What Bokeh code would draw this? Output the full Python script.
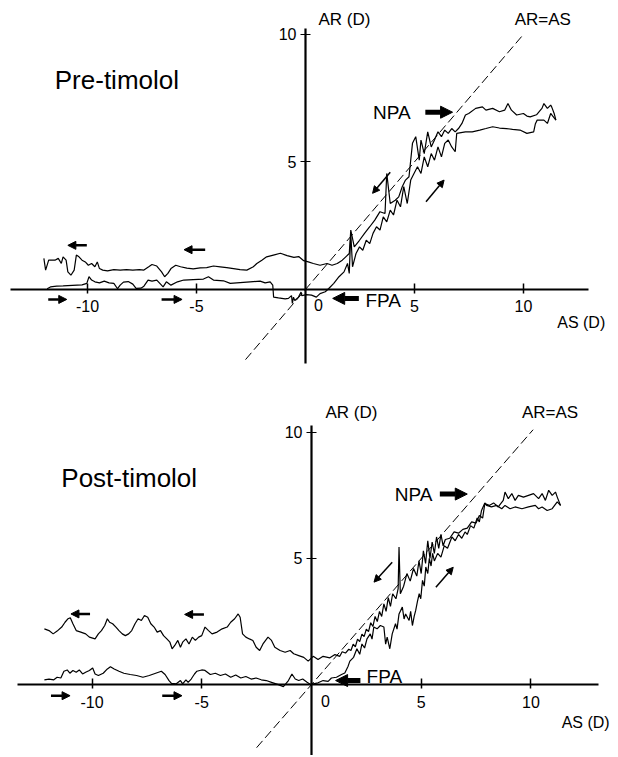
from bokeh.plotting import figure
from bokeh.models import LinearAxis, FixedTicker, Label, Arrow, NormalHead
from bokeh.layouts import column
from bokeh.embed import file_html
from bokeh.resources import INLINE

FONT = "Liberation Sans"

x_tick_values = [-10, -5, 5, 10]
x_tick_labels = ["-10", "-5", "5", "10"]
y_tick_values = [5, 10]
y_tick_labels = ["5", "10"]

# ---------------- Pre-timolol ----------------
# ascending (stimulus increasing) branch: AS, AR
pre_up_as = [
    -11.85, -11.7, -11.41, -11.12, -10.69, -10.25, -10.03, -9.93, -9.81, -9.66,
    -9.45, -9.23, -9.01, -8.79, -8.62, -8.5, -8.35, -8.13, -7.92, -7.77,
    -7.55, -7.41, -7.22, -7.04, -6.82, -6.68, -6.53, -6.38, -6.17, -5.87,
    -5.58, -5.15, -4.68, -4.45, -4.22, -3.76, -3.45, -3.0, -2.54, -2.08,
    -1.85, -1.62, -1.5, -1.46, -1.24, -0.93, -0.78, -0.64, -0.6, -0.55,
    -0.49, -0.32, -0.2, -0.17, 0.05, 0.28, 0.5, 0.67, 0.91, 1.07,
    1.3, 1.54, 1.77, 1.93, 2.01, 2.08, 2.16, 2.32, 2.48, 2.63,
    2.79, 2.95, 3.1, 3.26, 3.42, 3.57, 3.73, 3.89, 4.04, 4.2,
    4.36, 4.51, 4.67, 4.83, 4.98, 5.14, 5.3, 5.45, 5.61, 5.77,
    5.92, 6.08, 6.24, 6.39, 6.55, 6.71, 6.87, 6.94, 7.34, 7.65,
    8.0, 8.28, 8.59, 8.9, 9.22, 9.5, 9.84, 10.16, 10.47, 10.55,
    10.63, 10.94, 11.1, 11.25, 11.49]
pre_up_ar = [
    0.03, 0.1, 0.13, 0.14, 0.16, 0.18, 0.24, 0.5, 0.37, 0.3,
    0.26, 0.33, 0.26, 0.24, 0.03, 0.17, 0.29, 0.31, 0.21, 0.04,
    0.05, 0.13, 0.37, 0.33, 0.37, 0.24, 0.1, 0.3, 0.17, 0.3,
    0.37, 0.39, 0.41, 0.5, 0.37, 0.34, 0.24, 0.27, 0.3, 0.33,
    0.26, 0.3, 0.17, -0.3, -0.33, -0.37, -0.35, -0.24, -0.55, -0.3,
    -0.43, -0.3, -0.1, -0.24, -0.2, -0.22, -0.3, -0.16, -0.09, 0.04,
    0.24, 0.5, 0.69, 1.02, 0.63, 2.2, 0.89, 1.41, 1.67, 1.54,
    1.93, 1.8, 2.2, 2.46, 2.33, 2.85, 2.65, 3.11, 2.92, 3.5,
    3.24, 4.03, 3.37, 4.29, 4.55, 4.81, 4.55, 5.2, 4.81, 5.33,
    5.07, 5.59, 5.2, 5.73, 5.86, 5.59, 5.4, 6.12, 6.18, 6.18,
    6.25, 6.31, 6.38, 6.33, 6.31, 6.28, 6.25, 6.12, 6.18, 6.5,
    6.64, 6.64, 6.51, 6.9, 6.64]
# descending (stimulus decreasing) branch: AS, AR
pre_dn_as = [
    11.49, 11.41, 11.3, 11.25, 11.1, 10.94, 10.85, 10.78, 10.6, 10.31,
    10.16, 10.0, 9.69, 9.45, 9.29, 9.14, 8.9, 8.59, 8.28, 8.12,
    7.81, 7.49, 7.34, 7.18, 7.02, 6.87, 6.71, 6.55, 6.39, 6.24,
    6.08, 5.92, 5.77, 5.61, 5.45, 5.3, 5.22, 5.06, 4.91, 4.75,
    4.59, 4.44, 4.28, 4.12, 3.89, 3.73, 3.65, 3.42, 3.18, 2.95,
    2.71, 2.48, 2.24, 2.08, 2.01, 1.85, 1.69, 1.46, 1.22, 0.99,
    0.67, 0.36, 0.13, -0.08, -0.31, -0.53, -0.84, -1.15, -1.47, -1.78,
    -2.0, -2.23, -2.39, -2.69, -3.0, -3.3, -3.61, -3.91, -4.22, -4.53,
    -4.83, -5.15, -5.44, -5.73, -5.95, -6.17, -6.31, -6.46, -6.6, -6.82,
    -7.04, -7.19, -7.41, -7.62, -7.92, -8.21, -8.5, -8.79, -9.08, -9.3,
    -9.45, -9.55, -9.66, -9.81, -9.96, -10.1, -10.25, -10.39, -10.51, -10.61,
    -10.76, -10.9, -10.98, -11.12, -11.2, -11.34, -11.49, -11.63, -11.78, -11.92,
    -12.0]
pre_dn_ar = [
    6.64, 6.9, 7.15, 7.23, 7.1, 7.29, 7.1, 7.03, 6.85, 6.77,
    6.8, 6.9, 6.84, 7.03, 7.29, 7.03, 6.97, 7.1, 7.03, 7.16,
    7.1, 6.9, 6.84, 6.51, 6.31, 6.18, 6.31, 6.12, 6.25, 5.99,
    6.18, 5.86, 5.59, 6.18, 5.33, 5.86, 5.07, 5.99, 5.73, 4.42,
    4.29, 4.03, 3.63, 3.5, 3.37, 4.55, 2.98, 3.05, 2.72, 2.46,
    2.2, 1.93, 1.67, 2.33, 1.41, 1.28, 1.15, 1.02, 0.95, 1.02,
    0.95, 1.02, 1.08, 1.13, 1.29, 1.26, 1.33, 1.42, 1.35, 1.28,
    1.15, 1.02, 0.89, 0.76, 0.78, 0.82, 0.86, 0.89, 0.92, 0.86,
    0.85, 0.81, 0.84, 0.89, 0.95, 0.82, 0.63, 0.5, 0.69, 0.92,
    0.98, 0.89, 0.76, 0.78, 0.76, 0.78, 0.76, 0.78, 0.73, 0.76,
    0.82, 1.08, 0.89, 1.02, 0.95, 1.08, 1.15, 1.28, 1.35, 0.76,
    0.56, 0.69, 1.15, 1.28, 1.02, 1.22, 1.15, 1.15, 1.15, 0.76,
    1.22]
pre_identity = [-2.75, 10.0]

# ---------------- Post-timolol ----------------
post_up_as = [
    -12.17, -11.96, -11.74, -11.59, -11.42, -11.28, -11.13, -11.01, -10.87, -10.72,
    -10.58, -10.43, -10.29, -10.12, -9.97, -9.86, -9.71, -9.49, -9.3, -9.16,
    -8.99, -8.77, -8.55, -8.26, -7.97, -7.68, -7.39, -7.1, -6.84, -6.67,
    -6.49, -6.38, -6.16, -5.97, -5.87, -5.72, -5.62, -5.48, -5.33, -5.22,
    -5.0, -4.85, -4.61, -4.38, -4.15, -3.92, -3.68, -3.45, -3.22, -2.99,
    -2.75, -2.52, -2.29, -2.06, -1.82, -1.51, -1.28, -1.05, -0.89, -0.74,
    -0.58, -0.4, -0.2, -0.04, 0.08, 0.3, 0.53, 0.76, 0.91, 1.14,
    1.37, 1.52, 1.67, 1.75, 1.92, 2.07, 2.2, 2.3, 2.42, 2.53,
    2.68, 2.76, 2.84, 2.99, 3.14, 3.3, 3.38, 3.45, 3.57, 3.68,
    3.83, 3.9, 3.99, 4.14, 4.22, 4.29, 4.45, 4.52, 4.6, 4.68,
    4.75, 4.83, 4.91, 4.98, 5.06, 5.14, 5.21, 5.3, 5.37, 5.45,
    5.52, 5.6, 5.75, 5.9, 6.05, 6.2, 6.4, 6.55, 6.7, 6.85,
    7.0, 7.1, 7.25, 7.4, 7.55, 7.65, 7.75, 7.9, 7.98, 8.2,
    8.44, 8.67, 8.82, 9.05, 9.28, 9.59, 9.89, 10.2, 10.35, 10.51,
    10.74, 10.97, 11.2, 11.35]
post_up_ar = [
    0.19, 0.22, 0.19, 0.29, 0.26, 0.53, 0.58, 0.45, 0.56, 0.49,
    0.58, 0.42, 0.49, 0.56, 0.66, 0.42, 0.36, 0.45, 0.62, 0.71,
    0.62, 0.53, 0.45, 0.4, 0.36, 0.29, 0.36, 0.45, 0.53, 0.4,
    0.16, 0.05, 0.03, 0.16, 0.03, 0.19, 0.09, 0.22, 0.42, 0.53,
    0.58, 0.56, 0.4, 0.45, 0.36, 0.42, 0.29, 0.38, 0.26, 0.32,
    0.22, 0.26, 0.19, 0.16, 0.09, 0.0, -0.08, 0.16, 0.42, 0.22,
    0.16, 0.22, 0.09, 0.0, 0.03, 0.07, 0.16, 0.13, 0.26, 0.29,
    0.4, 0.46, 0.73, 0.93, 1.08, 1.42, 1.2, 1.61, 1.45, 1.81,
    2.01, 1.8, 2.28, 2.21, 2.34, 2.28, 1.6, 1.88, 1.42, 2.01,
    2.41, 2.2, 2.8, 3.07, 2.6, 2.8, 2.54, 2.9, 2.34, 2.7,
    2.94, 3.3, 3.6, 3.4, 4.13, 3.9, 4.66, 4.4, 5.0, 4.7,
    5.2, 4.9, 5.2, 5.05, 5.5, 5.4, 5.85, 5.7, 5.95, 5.8,
    6.05, 5.95, 6.3, 6.2, 6.6, 6.45, 6.9, 7.2, 7.1, 7.04,
    7.1, 6.97, 7.1, 6.97, 7.04, 6.97, 7.04, 7.1, 6.97, 7.04,
    6.9, 6.97, 7.24, 7.1]
post_dn_as = [
    11.35, 11.2, 11.12, 10.97, 10.81, 10.66, 10.51, 10.35, 10.12, 9.89,
    9.66, 9.43, 9.28, 9.13, 8.97, 8.82, 8.74, 8.51, 8.3, 8.1,
    7.9, 7.8, 7.65, 7.5, 7.3, 7.1, 6.9, 6.7, 6.5, 6.3,
    6.1, 6.0, 5.9, 5.8, 5.7, 5.6, 5.5, 5.4, 5.3, 5.2,
    5.1, 5.0, 4.9, 4.8, 4.65, 4.5, 4.35, 4.2, 4.05, 3.99,
    3.95, 3.85, 3.7, 3.6, 3.5, 3.4, 3.3, 3.2, 3.1, 3.0,
    2.9, 2.8, 2.7, 2.6, 2.5, 2.4, 2.3, 2.2, 2.1, 2.0,
    1.9, 1.8, 1.7, 1.55, 1.4, 1.29, 1.07, 0.84, 0.53, 0.3,
    0.08, -0.15, -0.35, -0.58, -0.81, -0.97, -1.2, -1.43, -1.67, -1.82,
    -1.98, -2.21, -2.36, -2.52, -2.67, -2.83, -2.99, -3.14, -3.25, -3.34,
    -3.5, -3.68, -3.84, -4.07, -4.3, -4.53, -4.69, -4.85, -5.0, -5.14,
    -5.29, -5.43, -5.58, -5.72, -5.87, -5.97, -6.09, -6.23, -6.35, -6.45,
    -6.59, -6.74, -6.88, -7.03, -7.17, -7.32, -7.46, -7.61, -7.75, -7.9,
    -8.04, -8.19, -8.33, -8.48, -8.62, -8.77, -8.91, -9.06, -9.2, -9.3,
    -9.42, -9.57, -9.71, -9.86, -10.12, -10.29, -10.51, -10.72, -10.87, -10.99,
    -11.09, -11.23, -11.38, -11.59, -11.77, -11.96, -12.17]
post_dn_ar = [
    7.1, 7.43, 7.63, 7.5, 7.7, 7.3, 7.57, 7.37, 7.57, 7.5,
    7.43, 7.5, 7.3, 7.57, 7.37, 7.63, 7.3, 7.04, 7.2, 7.1,
    7.17, 6.6, 6.7, 6.4, 6.45, 6.2, 6.15, 6.0, 6.05, 5.8,
    5.75, 5.5, 5.95, 5.4, 5.85, 5.2, 5.65, 5.0, 5.7, 4.8,
    5.3, 4.4, 4.9, 4.3, 4.6, 4.1, 4.4, 3.9, 3.6, 5.45,
    3.8, 3.4, 3.6, 3.1, 3.45, 2.9, 3.2, 2.7, 2.9, 2.5,
    2.7, 2.3, 2.45, 2.1, 2.2, 1.9, 2.0, 1.7, 1.8, 1.5,
    1.6, 1.35, 1.4, 1.25, 1.3, 1.12, 1.19, 1.06, 1.12, 0.99,
    1.12, 0.93, 1.08, 1.15, 1.22, 1.35, 1.28, 1.35, 1.48, 1.75,
    1.88, 1.61, 1.35, 1.48, 1.75, 1.81, 1.88, 2.01, 2.67, 2.8,
    2.61, 2.47, 2.28, 2.21, 2.08, 2.01, 2.14, 2.28, 1.94, 1.88,
    1.75, 1.88, 1.61, 1.81, 1.68, 1.48, 1.75, 1.55, 1.42, 1.68,
    1.81, 1.94, 2.14, 2.08, 2.28, 2.41, 2.67, 2.74, 2.54, 2.61,
    2.41, 2.14, 2.01, 1.94, 2.01, 2.14, 2.28, 2.41, 2.47, 2.61,
    2.34, 2.14, 2.01, 1.81, 1.88, 2.01, 2.08, 2.14, 2.41, 2.65,
    2.61, 2.47, 2.28, 2.12, 2.01, 2.14, 2.21]
post_identity = [-2.5, 10.1]


def add_arrow(p, xs, ys, xe, ye, lw, size):
    p.add_layout(Arrow(x_start=xs, y_start=ys, x_end=xe, y_end=ye,
                       line_width=lw, line_color="black",
                       end=NormalHead(size=size, fill_color="black",
                                      line_color="black", line_width=1)))


def add_label(p, x, y, text, size, align="left"):
    p.add_layout(Label(x=x, y=y, text=text, text_font=FONT,
                       text_font_size=size, text_color="black",
                       text_baseline="middle", text_align=align))


def make_panel(up_as, up_ar, dn_as, dn_ar, ident, xr, yr, height, xb, yb):
    p = figure(width=616, height=height, x_range=xr, y_range=yr,
               x_axis_type=None, y_axis_type=None,
               output_backend="svg", toolbar_location=None,
               min_border=0, min_border_left=0, min_border_right=0,
               min_border_top=0, min_border_bottom=0)
    p.outline_line_color = None
    p.background_fill_color = "white"
    p.border_fill_color = "white"

    xaxis = LinearAxis(fixed_location=0, bounds=xb,
                       ticker=FixedTicker(ticks=x_tick_values),
                       major_label_overrides=dict(zip(x_tick_values, x_tick_labels)),
                       axis_line_width=2.2, axis_line_color="black",
                       major_tick_in=6, major_tick_out=4,
                       major_tick_line_width=1.5, major_tick_line_color="black",
                       minor_tick_line_color=None,
                       major_label_text_font=FONT,
                       major_label_text_font_size="16px",
                       major_label_text_color="black",
                       major_label_standoff=7)
    p.add_layout(xaxis, "below")
    yaxis = LinearAxis(fixed_location=0, bounds=yb,
                       ticker=FixedTicker(ticks=y_tick_values),
                       major_label_overrides=dict(zip(y_tick_values, y_tick_labels)),
                       axis_line_width=2.2, axis_line_color="black",
                       major_tick_in=5, major_tick_out=5,
                       major_tick_line_width=1.2, major_tick_line_color="black",
                       minor_tick_line_color=None,
                       major_label_text_font=FONT,
                       major_label_text_font_size="16px",
                       major_label_text_color="black",
                       major_label_standoff=4)
    p.add_layout(yaxis, "left")

    p.line(ident, ident, line_color="black", line_width=1, line_dash="9 4")
    p.line(up_as, up_ar, line_color="black", line_width=1.2)
    p.line(dn_as, dn_ar, line_color="black", line_width=1.2)
    return p


# ---------- top panel ----------
p1 = make_panel(pre_up_as, pre_up_ar, pre_dn_as, pre_dn_ar, pre_identity,
                (-13.99, 14.27), (-3.49, 11.33), 378,
                (-13.53, 12.98), (-2.9, 10.24))
add_label(p1, -11.5, 8.2, "Pre-timolol", "26px")
add_label(p1, 0.6, 10.6, "AR (D)", "17px")
add_label(p1, 9.6, 10.6, "AR=AS", "17px")
add_label(p1, 11.55, -1.28, "AS (D)", "16px")
add_label(p1, 0.6, -0.6, "0", "16px", "center")
add_label(p1, 3.1, 6.95, "NPA", "19px")
add_label(p1, 2.75, -0.43, "FPA", "19px")
add_arrow(p1, 5.5, 6.95, 6.75, 6.95, 5, 12)
add_arrow(p1, 2.45, -0.35, 1.25, -0.35, 5, 12)
add_arrow(p1, -10.03, 1.73, -10.9, 1.73, 2.5, 8)
add_arrow(p1, -4.6, 1.56, -5.57, 1.56, 2.5, 8)
add_arrow(p1, -11.8, -0.39, -10.95, -0.39, 2.5, 8)
add_arrow(p1, -6.6, -0.39, -5.66, -0.39, 2.5, 8)
add_arrow(p1, 3.89, 4.6, 3.08, 3.77, 1.5, 7)
add_arrow(p1, 5.53, 3.44, 6.36, 4.29, 1.5, 7)

# ---------- bottom panel ----------
p2 = make_panel(post_up_as, post_up_ar, post_dn_as, post_dn_ar, post_identity,
                (-14.17, 13.9), (-2.81, 12.13), 377,
                (-13.39, 13.07), (-2.81, 10.28))
add_label(p2, -11.4, 8.2, "Post-timolol", "26px")
add_label(p2, 0.64, 10.77, "AR (D)", "17px")
add_label(p2, 9.59, 10.77, "AR=AS", "17px")
add_label(p2, 11.4, -1.5, "AS (D)", "16px")
add_label(p2, 0.64, -0.67, "0", "16px", "center")
add_label(p2, 3.8, 7.55, "NPA", "19px")
add_label(p2, 2.51, 0.32, "FPA", "19px")
add_arrow(p2, 5.85, 7.55, 7.1, 7.55, 5, 12)
add_arrow(p2, 2.23, 0.16, 1.1, 0.16, 5, 12)
add_arrow(p2, -10.09, 2.8, -10.96, 2.8, 2.5, 8)
add_arrow(p2, -4.9, 2.78, -5.78, 2.78, 2.5, 8)
add_arrow(p2, -11.87, -0.44, -11.0, -0.44, 2.5, 8)
add_arrow(p2, -6.8, -0.44, -5.9, -0.44, 2.5, 8)
add_arrow(p2, 3.68, 4.85, 2.85, 4.06, 1.5, 7)
add_arrow(p2, 5.67, 3.86, 6.46, 4.65, 1.5, 7)

layout = column(p1, p2)
open("out.html", "w").write(file_html(layout, INLINE))
